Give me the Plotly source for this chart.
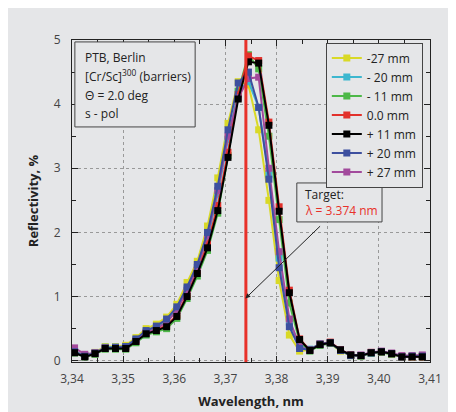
import plotly.graph_objects as go

wavelength = [round(3.3405 + 0.002 * k, 4) for k in range(35)]

r_m27 = [0.15, 0.08, 0.13, 0.22, 0.22, 0.24, 0.36, 0.50, 0.57, 0.68, 0.88, 1.22, 1.55, 2.10, 2.85, 3.70, 4.35, 4.30, 3.60, 2.50, 1.25, 0.40, 0.15, 0.17, 0.26, 0.27, 0.15, 0.08, 0.08, 0.12, 0.14, 0.10, 0.06, 0.07, 0.07]
r_m20 = [0.14, 0.08, 0.12, 0.21, 0.21, 0.22, 0.33, 0.46, 0.52, 0.62, 0.80, 1.12, 1.46, 1.90, 2.60, 3.45, 4.20, 4.35, 3.95, 2.90, 1.60, 0.60, 0.25, 0.18, 0.26, 0.28, 0.16, 0.09, 0.08, 0.12, 0.14, 0.11, 0.06, 0.07, 0.07]
r_m11 = [0.12, 0.06, 0.10, 0.18, 0.18, 0.18, 0.28, 0.40, 0.45, 0.50, 0.66, 0.97, 1.32, 1.72, 2.30, 3.20, 4.20, 4.77, 4.55, 3.50, 2.20, 0.90, 0.30, 0.15, 0.24, 0.27, 0.16, 0.08, 0.07, 0.12, 0.13, 0.10, 0.06, 0.06, 0.06]
r_0 = [0.13, 0.07, 0.12, 0.20, 0.20, 0.20, 0.31, 0.43, 0.48, 0.55, 0.71, 1.03, 1.40, 1.82, 2.42, 3.25, 4.15, 4.75, 4.68, 3.72, 2.40, 1.10, 0.34, 0.17, 0.26, 0.29, 0.17, 0.09, 0.08, 0.13, 0.14, 0.11, 0.06, 0.06, 0.06]
r_p11 = [0.125, 0.06, 0.11, 0.19, 0.19, 0.19, 0.30, 0.42, 0.47, 0.53, 0.69, 1.00, 1.36, 1.76, 2.34, 3.17, 4.08, 4.66, 4.64, 3.67, 2.33, 1.06, 0.33, 0.16, 0.25, 0.28, 0.17, 0.09, 0.08, 0.125, 0.14, 0.11, 0.06, 0.06, 0.06]
r_p20 = [0.14, 0.07, 0.12, 0.20, 0.21, 0.22, 0.34, 0.47, 0.54, 0.65, 0.84, 1.15, 1.50, 2.00, 2.72, 3.60, 4.33, 4.50, 3.95, 2.83, 1.45, 0.53, 0.19, 0.17, 0.26, 0.28, 0.16, 0.08, 0.08, 0.12, 0.14, 0.11, 0.06, 0.07, 0.07]
r_p27 = [0.20, 0.10, 0.12, 0.19, 0.20, 0.21, 0.31, 0.44, 0.50, 0.60, 0.78, 1.10, 1.45, 1.95, 2.65, 3.50, 4.10, 4.40, 4.42, 3.00, 1.70, 0.65, 0.22, 0.16, 0.26, 0.28, 0.17, 0.09, 0.09, 0.13, 0.15, 0.12, 0.08, 0.08, 0.09]

series_names = ["-27 mm", "- 20 mm", "- 11 mm", "0.0 mm", "+ 11 mm", "+ 20 mm", "+ 27 mm"]
series_values = [r_m27, r_m20, r_m11, r_0, r_p11, r_p20, r_p27]
series_colors = ["#d9d927", "#3db7cf", "#4db848", "#e2312b", "#000000", "#3d4f9f", "#a24a9c"]
draw_order = [0, 1, 2, 3, 6, 5, 4]

x_ticks = [3.34, 3.35, 3.36, 3.37, 3.38, 3.39, 3.40, 3.41]
x_tick_labels = ["3,34", "3,35", "3,36", "3,37", "3,38", "3,39", "3,40", "3,41"]
y_ticks = [0, 1, 2, 3, 4, 5]

info_lines = ["PTB, Berlin", "[Cr/Sc]<sup>300</sup> (barriers)", "Θ = 2.0 deg", "s - pol"]
target = 3.374

bg = "#e5e6e8"
fig = go.Figure()
for i in draw_order:
    fig.add_trace(go.Scatter(
        x=wavelength, y=series_values[i], name=series_names[i], mode="lines+markers",
        line=dict(color=series_colors[i], width=2),
        marker=dict(symbol="square", size=7, color=series_colors[i]),
        legendrank=i + 1,
    ))

fig.add_shape(type="line", x0=target, x1=target, y0=0, y1=1, yref="paper",
              line=dict(color="#e8312a", width=3))

# info box
fig.add_shape(type="rect", xref="paper", yref="paper", x0=0.008, x1=0.344, y0=0.730, y1=0.994,
              line=dict(color="#444", width=1), fillcolor=bg, layer="above")
for txt, yp in zip(info_lines, [0.947, 0.887, 0.829, 0.773]):
    fig.add_annotation(x=0.031, y=yp, xref="paper", yref="paper", xanchor="left", yanchor="middle",
                       text=txt, showarrow=False, align="left", font=dict(size=12, color="#222"))

fig.add_annotation(x=3.3739, y=0.97, ax=3.3888, ay=2.12, axref="x", ayref="y",
                   text="", showarrow=True, arrowhead=2, arrowsize=1, arrowwidth=1, arrowcolor="#222")

# target box
fig.add_shape(type="rect", xref="paper", yref="paper", x0=0.628, x1=0.866, y0=0.435, y1=0.556,
              line=dict(color="#444", width=1), fillcolor=bg, layer="above")
fig.add_annotation(x=0.645, y=0.519, xref="paper", yref="paper", xanchor="left", yanchor="middle",
                   text="Target:", showarrow=False, font=dict(size=12, color="#222"))
fig.add_annotation(x=0.645, y=0.469, xref="paper", yref="paper", xanchor="left", yanchor="middle",
                   text="λ = 3.374 nm", showarrow=False, font=dict(size=12, color="#e8312a"))

axis_common = dict(showline=True, linecolor="#222", linewidth=1, mirror="ticks", ticks="inside",
                   ticklen=6, tickcolor="#222", showgrid=True, gridcolor="#999", griddash="dot",
                   gridwidth=1, zeroline=False, tickfont=dict(size=12, color="#444"), automargin=False)

fig.update_xaxes(range=[3.34, 3.41], tickvals=x_ticks, ticktext=x_tick_labels, ticklabelstandoff=6,
                 minor=dict(dtick=0.005, ticks="inside", ticklen=4, tickcolor="#222", showgrid=False),
                 title=dict(text="<b>Wavelength, nm</b>", font=dict(size=13, color="#222"), standoff=10),
                 **axis_common)
fig.update_yaxes(range=[-0.02, 5], tickvals=y_ticks, ticklabelstandoff=8,
                 minor=dict(dtick=0.5, ticks="inside", ticklen=4, tickcolor="#222", showgrid=False),
                 title=dict(text="<b>Reflectivity, %</b>", font=dict(size=13, color="#222"), standoff=12),
                 **axis_common)

fig.update_layout(
    width=456, height=412,
    margin=dict(l=64, r=34, t=32, b=58),
    paper_bgcolor=bg, plot_bgcolor=bg,
    font=dict(family="Open Sans", color="#222"),
    legend=dict(x=0.709, y=0.992, xanchor="left", yanchor="top", bgcolor=bg,
                bordercolor="#444", borderwidth=1, font=dict(size=12), tracegroupgap=0,
                itemwidth=30),
    showlegend=True,
)

fig.write_html("out.html")
